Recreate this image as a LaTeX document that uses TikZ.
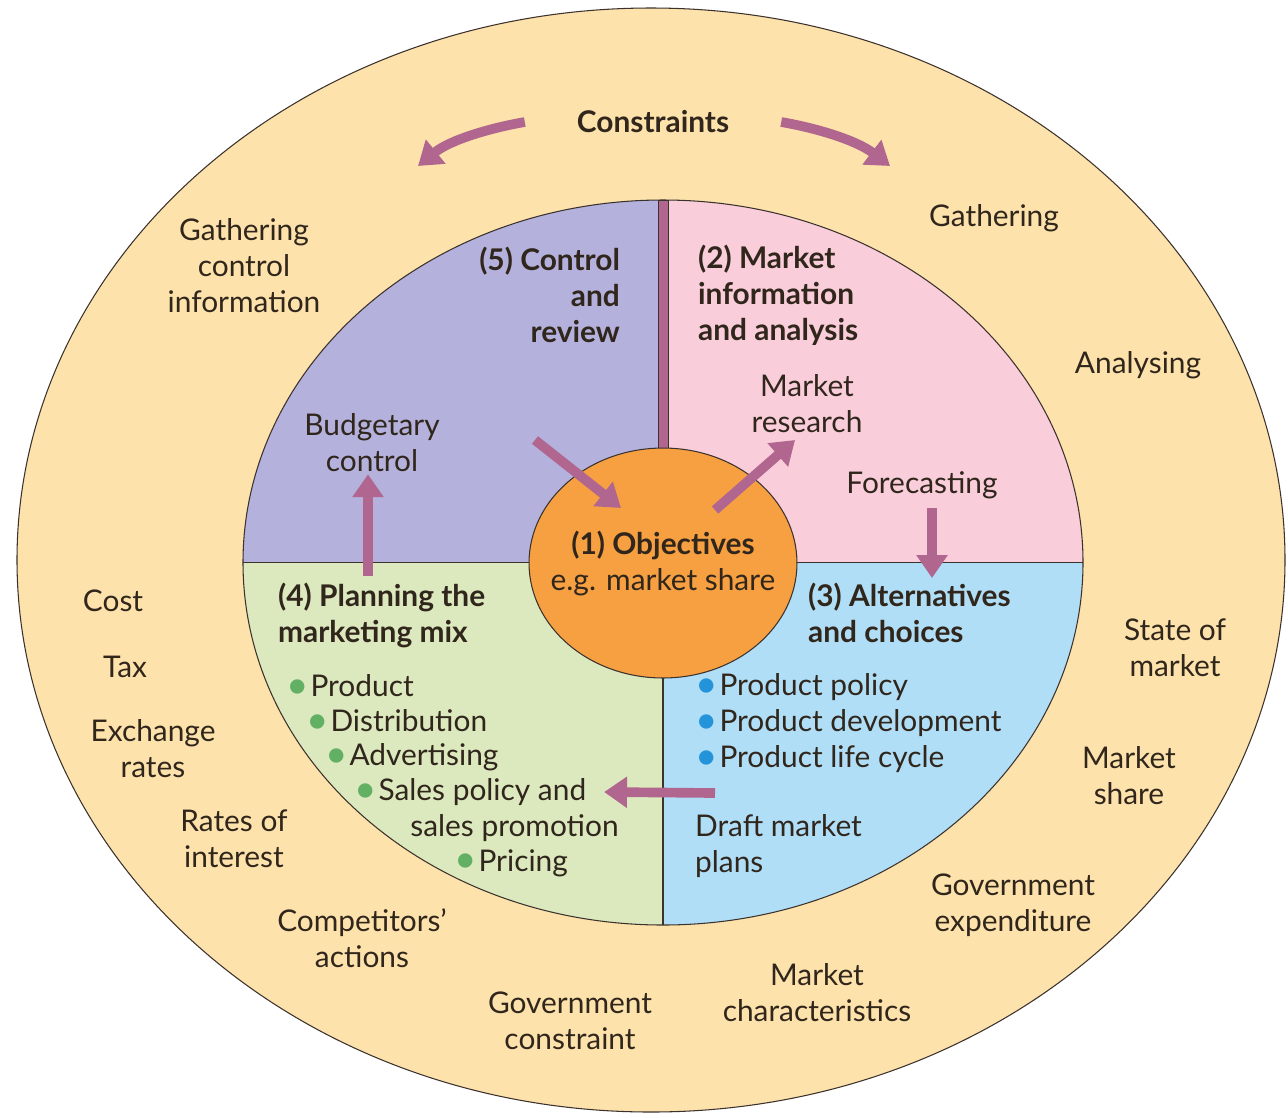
\documentclass[tikz,border=0pt]{standalone}
\usepackage{fontspec}
\setmainfont{Lato}
\usepackage{xcolor}
\usepackage{tikz}
\usetikzlibrary{arrows.meta, positioning, shapes.geometric}
\definecolor{ink}{RGB}{48, 38, 28}
\definecolor{edge}{RGB}{60, 50, 45}
\definecolor{ringc}{RGB}{253, 226, 172}
\definecolor{purplec}{RGB}{180, 178, 220}
\definecolor{pinkc}{RGB}{249, 205, 218}
\definecolor{bluec}{RGB}{176, 222, 246}
\definecolor{greenc}{RGB}{220, 232, 190}
\definecolor{orangec}{RGB}{246, 160, 66}
\definecolor{mauve}{RGB}{176, 102, 142}
\definecolor{dotgreen}{RGB}{98, 176, 100}
\definecolor{dotblue}{RGB}{36, 148, 218}
\newcommand{\gdot}{\raisebox{-1pt}[0pt][0pt]{\fontsize{22}{0}\selectfont\color{dotgreen}\textbullet}\hspace{1pt}}
\newcommand{\bdot}{\raisebox{-1pt}[0pt][0pt]{\fontsize{22}{0}\selectfont\color{dotblue}\textbullet}\hspace{1pt}}

\begin{document}
\begin{tikzpicture}[
        x=0.02cm, y=-0.02cm,
        lbl/.style={font=\fontsize{17}{20.5}\selectfont, text=ink,
                    inner sep=1pt, align=center},
        sect/.style={lbl, font=\fontsize{17}{20.5}\selectfont\bfseries},
        listitem/.style={lbl, anchor=west, align=left, inner sep=0pt},
        bigarrow/.style={draw=mauve, line width=5.5pt,
                         -{Triangle[length=13pt, width=17pt]}},
        rim/.style={draw=edge, line width=0.6pt},
      ]
        \fill[white] (0,0) rectangle (1288,1117);
        \useasboundingbox (0,0) rectangle (1288,1117);

        % outer ring
        \filldraw[fill=ringc, rim] (651,560) ellipse [x radius=634, y radius=552];

        % quadrants
        \fill[purplec] (663,562.5) -- (243,562.5)
          arc [start angle=180, end angle=270, x radius=420, y radius=362.5] -- cycle;
        \fill[pinkc] (663,562.5) -- (663,200)
          arc [start angle=270, end angle=360, x radius=420, y radius=362.5] -- cycle;
        \fill[bluec] (663,562.5) -- (1083,562.5)
          arc [start angle=0, end angle=90, x radius=420, y radius=362.5] -- cycle;
        \fill[greenc] (663,562.5) -- (663,925)
          arc [start angle=90, end angle=180, x radius=420, y radius=362.5] -- cycle;
        \draw[rim] (663,562.5) ellipse [x radius=420, y radius=362.5];
        \draw[rim] (243,562.5) -- (1083,562.5);
        \draw[rim] (663,562.5) -- (663,925);
        \filldraw[fill=mauve, draw=edge, line width=0.5pt] (658,200) rectangle (668,470);

        % centre
        \node[ellipse, draw=edge, line width=0.6pt, fill=orangec, minimum width=5.36cm,
              minimum height=4.6cm, inner sep=0pt] (obj) at (663,563) {};
        \node[lbl] (objtxt) at (obj.center) {\textbf{(1) Objectives}\\e.g. market share};

        % segment titles
        \node[sect, anchor=east, align=right] (ctrl) at (622,295) {(5) Control\\and\\review};
        \node[sect, anchor=west, align=left] (info) at (696,295) {(2) Market\\information\\and analysis};
        \node[sect, anchor=west, align=left] (alt) at (806,613) {(3) Alternatives\\and choices};
        \node[sect, anchor=west, align=left] (plan) at (276,615) {(4) Planning the\\marketing mix};
        \node[sect] (cons) at (653,122) {Constraints};

        % inner labels
        \node[lbl] (budget) at (372,443) {Budgetary\\control};
        \node[lbl] (research) at (807,404) {Market\\research};
        \node[lbl] (fcast) at (922,485) {Forecasting};
        \node[lbl, anchor=west, align=left] (draft) at (693,846) {Draft market\\plans};

        \node[listitem] (pprod) at (286,686) {\gdot Product};
        \node[listitem] (pdist) at (306,721) {\gdot Distribution};
        \node[listitem] (padv)  at (325,757) {\gdot Advertising};
        \node[listitem] (psale) at (354,792) {\gdot Sales policy and};
        \node[listitem] (pprom) at (410,828) {sales promotion};
        \node[listitem] (ppric) at (454,863) {\gdot Pricing};

        \node[listitem] (apol) at (695,687) {\bdot Product policy};
        \node[listitem] (adev) at (695,723) {\bdot Product development};
        \node[listitem] (alife) at (695,759) {\bdot Product life cycle};

        % outer labels
        \node[lbl] (gctrl) at (244,266) {Gathering\\control\\information};
        \node[lbl] (gath) at (994,218) {Gathering};
        \node[lbl] (anal) at (1138,365) {Analysing};
        \node[lbl] (state) at (1175,648) {State of\\market};
        \node[lbl] (mshare) at (1129,776) {Market\\share};
        \node[lbl] (gexp) at (1013,905) {Government\\expenditure};
        \node[lbl] (mchar) at (817,993) {Market\\characteristics};
        \node[lbl] (gcons) at (570,1021) {Government\\constraint};
        \node[lbl] (comp) at (362,938) {Competitors'\\actions};
        \node[lbl] (rates) at (234,839) {Rates of\\interest};
        \node[lbl] (exch) at (153,749) {Exchange\\rates};
        \node[lbl] (tax) at (125,667) {Tax};
        \node[lbl] (cost) at (113,601) {Cost};

        % arrows
        \coordinate (consl) at (418,166);
        \coordinate (consr) at (890,166);
        \coordinate (planup) at (368,576);
        \coordinate (ctrlin) at (535,440);
        \coordinate (objin) at (621,508);
        \coordinate (objout) at (715,510);
        \coordinate (draftl) at (715,793);

        \draw[bigarrow] ([xshift=-1cm]cons.west) .. controls (490,128) and (450,140) .. (consl);
        \draw[bigarrow] ([xshift=1cm]cons.east) .. controls (816,128) and (856,140) .. (consr);
        \draw[bigarrow] (planup) -- (planup |- budget.south);
        \draw[bigarrow] (ctrlin) -- (objin);
        \draw[bigarrow] (objout) -- (795,440);
        \draw[bigarrow] (932,508) -- (932,578);
        \draw[bigarrow] (draftl) -- ([xshift=10pt]psale.east);
      \end{tikzpicture}
\end{document}
